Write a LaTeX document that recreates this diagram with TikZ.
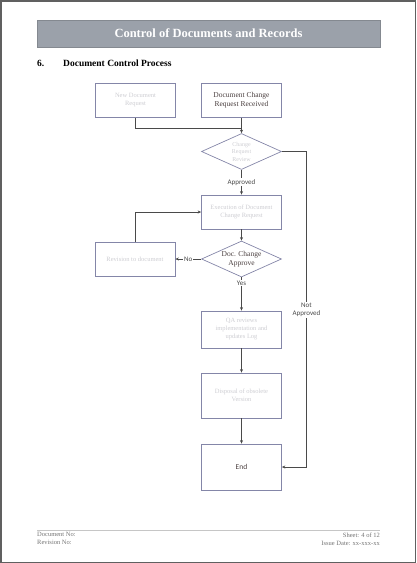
\documentclass[tikz,border=0pt]{standalone}
\usepackage{fontspec}
\setmainfont{Liberation Serif}
\newfontfamily\lblfont{Carlito}
\usetikzlibrary{shapes.geometric,arrows.meta}
\definecolor{barcol}{HTML}{9BA1AA}
\definecolor{boxcol}{HTML}{8486A8}
\definecolor{txtcol}{HTML}{4A3F3F}
\definecolor{linecol}{HTML}{4A4A4A}
\definecolor{blurcol}{HTML}{CDCDD2}
\tikzset{
  procbox/.style={draw=boxcol, line width=0.7pt, minimum width=80pt, minimum height=34pt,
    inner sep=1pt, align=center, font=\fontsize{7.5}{9}\selectfont, text=txtcol},
  decbox/.style={draw=boxcol, line width=0.7pt, diamond, aspect=2.2, minimum width=80pt,
    minimum height=36pt, inner sep=0pt, align=center, font=\fontsize{7.5}{9}\selectfont, text=txtcol},
  arr/.style={draw=linecol, line width=0.6pt, -{Stealth[length=3.5pt,width=3pt]}},
  conn/.style={draw=linecol, line width=0.6pt},
  lbl/.style={fill=white, inner sep=1pt, font=\lblfont\fontsize{7}{8.5}\selectfont, text=linecol, align=center}
}
\begin{document}
\begin{tikzpicture}[x=1pt,y=-1pt]
  \useasboundingbox (0,0) rectangle (416,563);
  \draw[draw=gray!75!black, line width=1.5pt] (0.75,0.75) rectangle (415.25,562.25);
  %% header
  \node[fill=barcol, draw=barcol!85!black, line width=0.4pt, minimum width=343pt, minimum height=27pt,
    text=white, font=\bfseries\fontsize{12.5}{14}\selectfont] (title) at (208.5,33.5) {Control of Documents and Records};
  \node[anchor=west, font=\bfseries\fontsize{9.5}{11}\selectfont, inner sep=0pt] (secno) at (37,63) {6.};
  \node[anchor=west, font=\bfseries\fontsize{9.5}{11}\selectfont, inner sep=0pt] (sectitle) at (63,63) {Document Control Process};
  %% flow chart
  \node[procbox, font=\fontsize{6.5}{8}\selectfont] (newreq) at (135.5,100.5) {\color{blurcol}New Document\\ \color{blurcol}Request};
  \node[procbox] (chgreq) at (241.5,100.5) {Document Change\\Request Received};
  \coordinate (join) at (241.5,128);
  \node[decbox, font=\fontsize{6}{7.5}\selectfont] (chk) at (241.5,151.5) {\color{blurcol}Change\\ \color{blurcol}Request\\ \color{blurcol}Review};
  \node[procbox, font=\fontsize{6.5}{8}\selectfont] (exec) at (241.5,212) {\color{blurcol}Execution of Document\\ \color{blurcol}Change Request};
  \node[decbox] (appr) at (241.5,259) {Doc. Change\\Approve};
  \node[procbox, font=\fontsize{6.5}{8}\selectfont] (revise) at (135,259) {\color{blurcol}Revision to document};
  \node[procbox, minimum height=37pt, font=\fontsize{6.5}{8}\selectfont] (qa) at (241.5,329.5) {\color{blurcol}QA reviews\\ \color{blurcol}implementation and\\ \color{blurcol}updates Log};
  \node[procbox, minimum height=45pt, font=\fontsize{6.5}{8}\selectfont] (dispose) at (241.5,395.5) {\color{blurcol}Disposal of obsolete\\ \color{blurcol}Version};
  \node[procbox, minimum height=46pt, font=\lblfont\fontsize{7.5}{9}\selectfont] (end) at (241.5,467) {End};
  \coordinate (rt) at (306.5,310);
  %% connectors
  \draw[conn] (newreq.south) |- (join);
  \draw[arr] (chgreq.south) -- (chk.north);
  \draw[arr] (chk.south) -- node[lbl] {Approved} (exec.north);
  \draw[arr] (exec.south) -- (appr.north);
  \draw[arr] (appr.west) -- node[lbl] {No} (revise.east);
  \draw[arr] (revise.north) |- (exec.west);
  \draw[arr] (appr.south) -- node[lbl, pos=0.17] {Yes} (qa.north);
  \draw[arr] (qa.south) -- (dispose.north);
  \draw[arr] (dispose.south) -- (end.north);
  \draw[arr] (chk.east) -| (rt) |- (end.east);
  \node[lbl] (notappr) at (rt) {Not\\Approved};
  %% footer
  \draw[draw=gray!45, line width=1pt] (37,530) coordinate (fl) -- (380,530) coordinate (fr);
  \node[anchor=north west, inner sep=0pt, align=left, text=gray!90!black, font=\fontsize{6.5}{8}\selectfont] (docno) at (37,532.5) {Document No:\\Revision No:};
  \node[anchor=north east, inner sep=0pt, align=right, text=gray!90!black, font=\fontsize{6.5}{8}\selectfont] (sheet) at (380,532.5) {Sheet: 4 of 12\\Issue Date: xx-xxx-xx};
\end{tikzpicture}
\end{document}
